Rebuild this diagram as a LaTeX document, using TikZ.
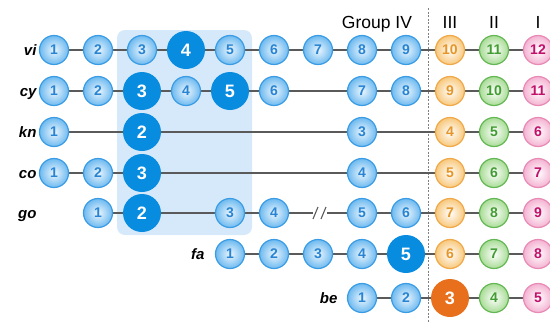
\documentclass[tikz,border=0pt]{standalone}
\usepackage{fontspec}
\setmainfont{Liberation Sans}
\usetikzlibrary{backgrounds}
\definecolor{ballblue}{RGB}{58,156,228}
\definecolor{ballblueedge}{RGB}{110,186,240}
\definecolor{ballbluecore}{RGB}{236,246,254}
\definecolor{numblue}{RGB}{40,132,210}
\definecolor{solidblue}{RGB}{8,140,224}
\definecolor{orangeedge}{RGB}{240,168,72}
\definecolor{orangefill}{RGB}{248,200,124}
\definecolor{numorange}{RGB}{230,150,40}
\definecolor{solidorange}{RGB}{232,112,28}
\definecolor{greenedge}{RGB}{100,184,84}
\definecolor{greenfill}{RGB}{168,220,150}
\definecolor{numgreen}{RGB}{66,156,52}
\definecolor{pinkedge}{RGB}{232,138,180}
\definecolor{pinkfill}{RGB}{244,178,210}
\definecolor{numpink}{RGB}{192,16,106}
\definecolor{boxblue}{RGB}{214,233,250}
\definecolor{linkgray}{RGB}{90,90,90}
\tikzset{
  ball/.style={circle, inner sep=0pt, minimum size=29pt, line width=1.2pt,
    shading=radial, font=\fontsize{14}{14}\selectfont\bfseries},
  sb/.style={ball, draw=ballblue, inner color=ballbluecore, outer color=ballblueedge, text=numblue},
  so/.style={ball, draw=orangeedge, inner color=white, outer color=orangefill, text=numorange},
  sg/.style={ball, draw=greenedge, inner color=white, outer color=greenfill, text=numgreen},
  sp/.style={ball, draw=pinkedge, inner color=white, outer color=pinkfill, text=numpink},
  bb/.style={circle, inner sep=0pt, minimum size=38pt, fill=solidblue, text=white,
    font=\fontsize{18}{18}\selectfont\bfseries},
  bo/.style={circle, inner sep=0pt, minimum size=38pt, fill=solidorange, text=white,
    font=\fontsize{18}{18}\selectfont\bfseries},
  rowlab/.style={anchor=base east, font=\fontsize{15}{15}\selectfont\bfseries\itshape},
  head/.style={anchor=base, font=\fontsize{17.5}{17.5}\selectfont},
  link/.style={draw=linkgray, line width=1.3pt},
}
\begin{document}
\begin{tikzpicture}[x=1pt,y=-1pt]
\useasboundingbox (0,0) rectangle (550,322);
% column pitch 44pt starting at 54pt
\def\ca{54}\def\cb{98}\def\cc{142}\def\cd{186}\def\ce{230}\def\cf{274}
\def\cg{318}\def\ch{362}\def\ci{406}\def\cj{450}\def\ck{494}\def\cl{538}

% headings
\node[head] (hIV) at (377,28) {Group IV};
\node[head] (hIII) at (\cj,28) {III};
\node[head] (hII) at (\ck,28) {II};
\node[head] (hI) at (\cl,28) {I};

% row vi
\node[rowlab] (lvi) at (40,55.5) {vi};
\node[sb] (vi1) at (\ca,50) {1};
\node[sb] (vi2) at (\cb,50) {2};
\node[sb] (vi3) at (\cc,50) {3};
\node[bb] (vi4) at (\cd,50) {4};
\node[sb] (vi5) at (\ce,50) {5};
\node[sb] (vi6) at (\cf,50) {6};
\node[sb] (vi7) at (\cg,50) {7};
\node[sb] (vi8) at (\ch,50) {8};
\node[sb] (vi9) at (\ci,50) {9};
\node[so] (vi10) at (\cj,50) {10};
\node[sg] (vi11) at (\ck,50) {11};
\node[sp] (vi12) at (\cl,50) {12};

% row cy
\node[rowlab] (lcy) at (40,96.5) {cy};
\node[sb] (cy1) at (\ca,91) {1};
\node[sb] (cy2) at (\cb,91) {2};
\node[bb] (cy3) at (\cc,91) {3};
\node[sb] (cy4) at (\cd,91) {4};
\node[bb] (cy5) at (\ce,91) {5};
\node[sb] (cy6) at (\cf,91) {6};
\node[sb] (cy7) at (\ch,91) {7};
\node[sb] (cy8) at (\ci,91) {8};
\node[so] (cy9) at (\cj,91) {9};
\node[sg] (cy10) at (\ck,91) {10};
\node[sp] (cy11) at (\cl,91) {11};

% row kn
\node[rowlab] (lkn) at (40,137.5) {kn};
\node[sb] (kn1) at (\ca,132) {1};
\node[bb] (kn2) at (\cc,132) {2};
\node[sb] (kn3) at (\ch,132) {3};
\node[so] (kn4) at (\cj,132) {4};
\node[sg] (kn5) at (\ck,132) {5};
\node[sp] (kn6) at (\cl,132) {6};

% row co
\node[rowlab] (lco) at (40,178.5) {co};
\node[sb] (co1) at (\ca,173) {1};
\node[sb] (co2) at (\cb,173) {2};
\node[bb] (co3) at (\cc,173) {3};
\node[sb] (co4) at (\ch,173) {4};
\node[so] (co5) at (\cj,173) {5};
\node[sg] (co6) at (\ck,173) {6};
\node[sp] (co7) at (\cl,173) {7};

% row go
\node[rowlab] (lgo) at (40,218.5) {go};
\node[sb] (go1) at (\cb,213) {1};
\node[bb] (go2) at (\cc,213) {2};
\node[sb] (go3) at (\ce,213) {3};
\node[sb] (go4) at (\cf,213) {4};
\coordinate (gobrk) at (320,213);
\node[sb] (go5) at (\ch,213) {5};
\node[sb] (go6) at (\ci,213) {6};
\node[so] (go7) at (\cj,213) {7};
\node[sg] (go8) at (\ck,213) {8};
\node[sp] (go9) at (\cl,213) {9};

% row fa
\node[rowlab] (lfa) at (208,259.5) {fa};
\node[sb] (fa1) at (\ce,254) {1};
\node[sb] (fa2) at (\cf,254) {2};
\node[sb] (fa3) at (\cg,254) {3};
\node[sb] (fa4) at (\ch,254) {4};
\node[bb] (fa5) at (\ci,254) {5};
\node[so] (fa6) at (\cj,254) {6};
\node[sg] (fa7) at (\ck,254) {7};
\node[sp] (fa8) at (\cl,254) {8};

% row be
\node[rowlab] (lbe) at (341,303.5) {be};
\node[sb] (be1) at (\ch,298) {1};
\node[sb] (be2) at (\ci,298) {2};
\node[bo] (be3) at (\cj,298) {3};
\node[sg] (be4) at (\ck,298) {4};
\node[sp] (be5) at (\cl,298) {5};

\begin{pgfonlayer}{background}
  % shaded block behind columns 3 to 5
  \fill[boxblue, rounded corners=8pt] (117,30) rectangle (252,235);
  % divider between group IV and group III
  \draw[gray, line width=0.8pt, dash pattern=on 2pt off 1.5pt] (428,8) -- (428,322);
  % chains
  \path[link] (vi1)--(vi2)--(vi3)--(vi4)--(vi5)--(vi6)--(vi7)--(vi8)--(vi9)--(vi10)--(vi11)--(vi12);
  \path[link] (cy1)--(cy2)--(cy3)--(cy4)--(cy5)--(cy6)--(cy7)--(cy8)--(cy9)--(cy10)--(cy11);
  \path[link] (kn1)--(kn2)--(kn3)--(kn4)--(kn5)--(kn6);
  \path[link] (co1)--(co2)--(co3)--(co4)--(co5)--(co6)--(co7);
  \path[link] (go1)--(go2)--(go3)--(go4);
  \path[link] (go4) -- ([xshift=-7pt]gobrk);
  \path[link] ([xshift=7pt]gobrk) -- (go5);
  \path[link] (go5)--(go6)--(go7)--(go8)--(go9);
  \path[link] (fa1)--(fa2)--(fa3)--(fa4)--(fa5)--(fa6)--(fa7)--(fa8);
  \path[link] (be1)--(be2)--(be3)--(be4)--(be5);
\end{pgfonlayer}
% break mark on the go chain
\draw[linkgray, line width=1.1pt] ([shift={(-7pt,-6pt)}]gobrk) -- ([shift={(-2pt,6pt)}]gobrk);
\draw[linkgray, line width=1.1pt] ([shift={(1pt,-6pt)}]gobrk) -- ([shift={(6pt,6pt)}]gobrk);
\end{tikzpicture}
\end{document}
